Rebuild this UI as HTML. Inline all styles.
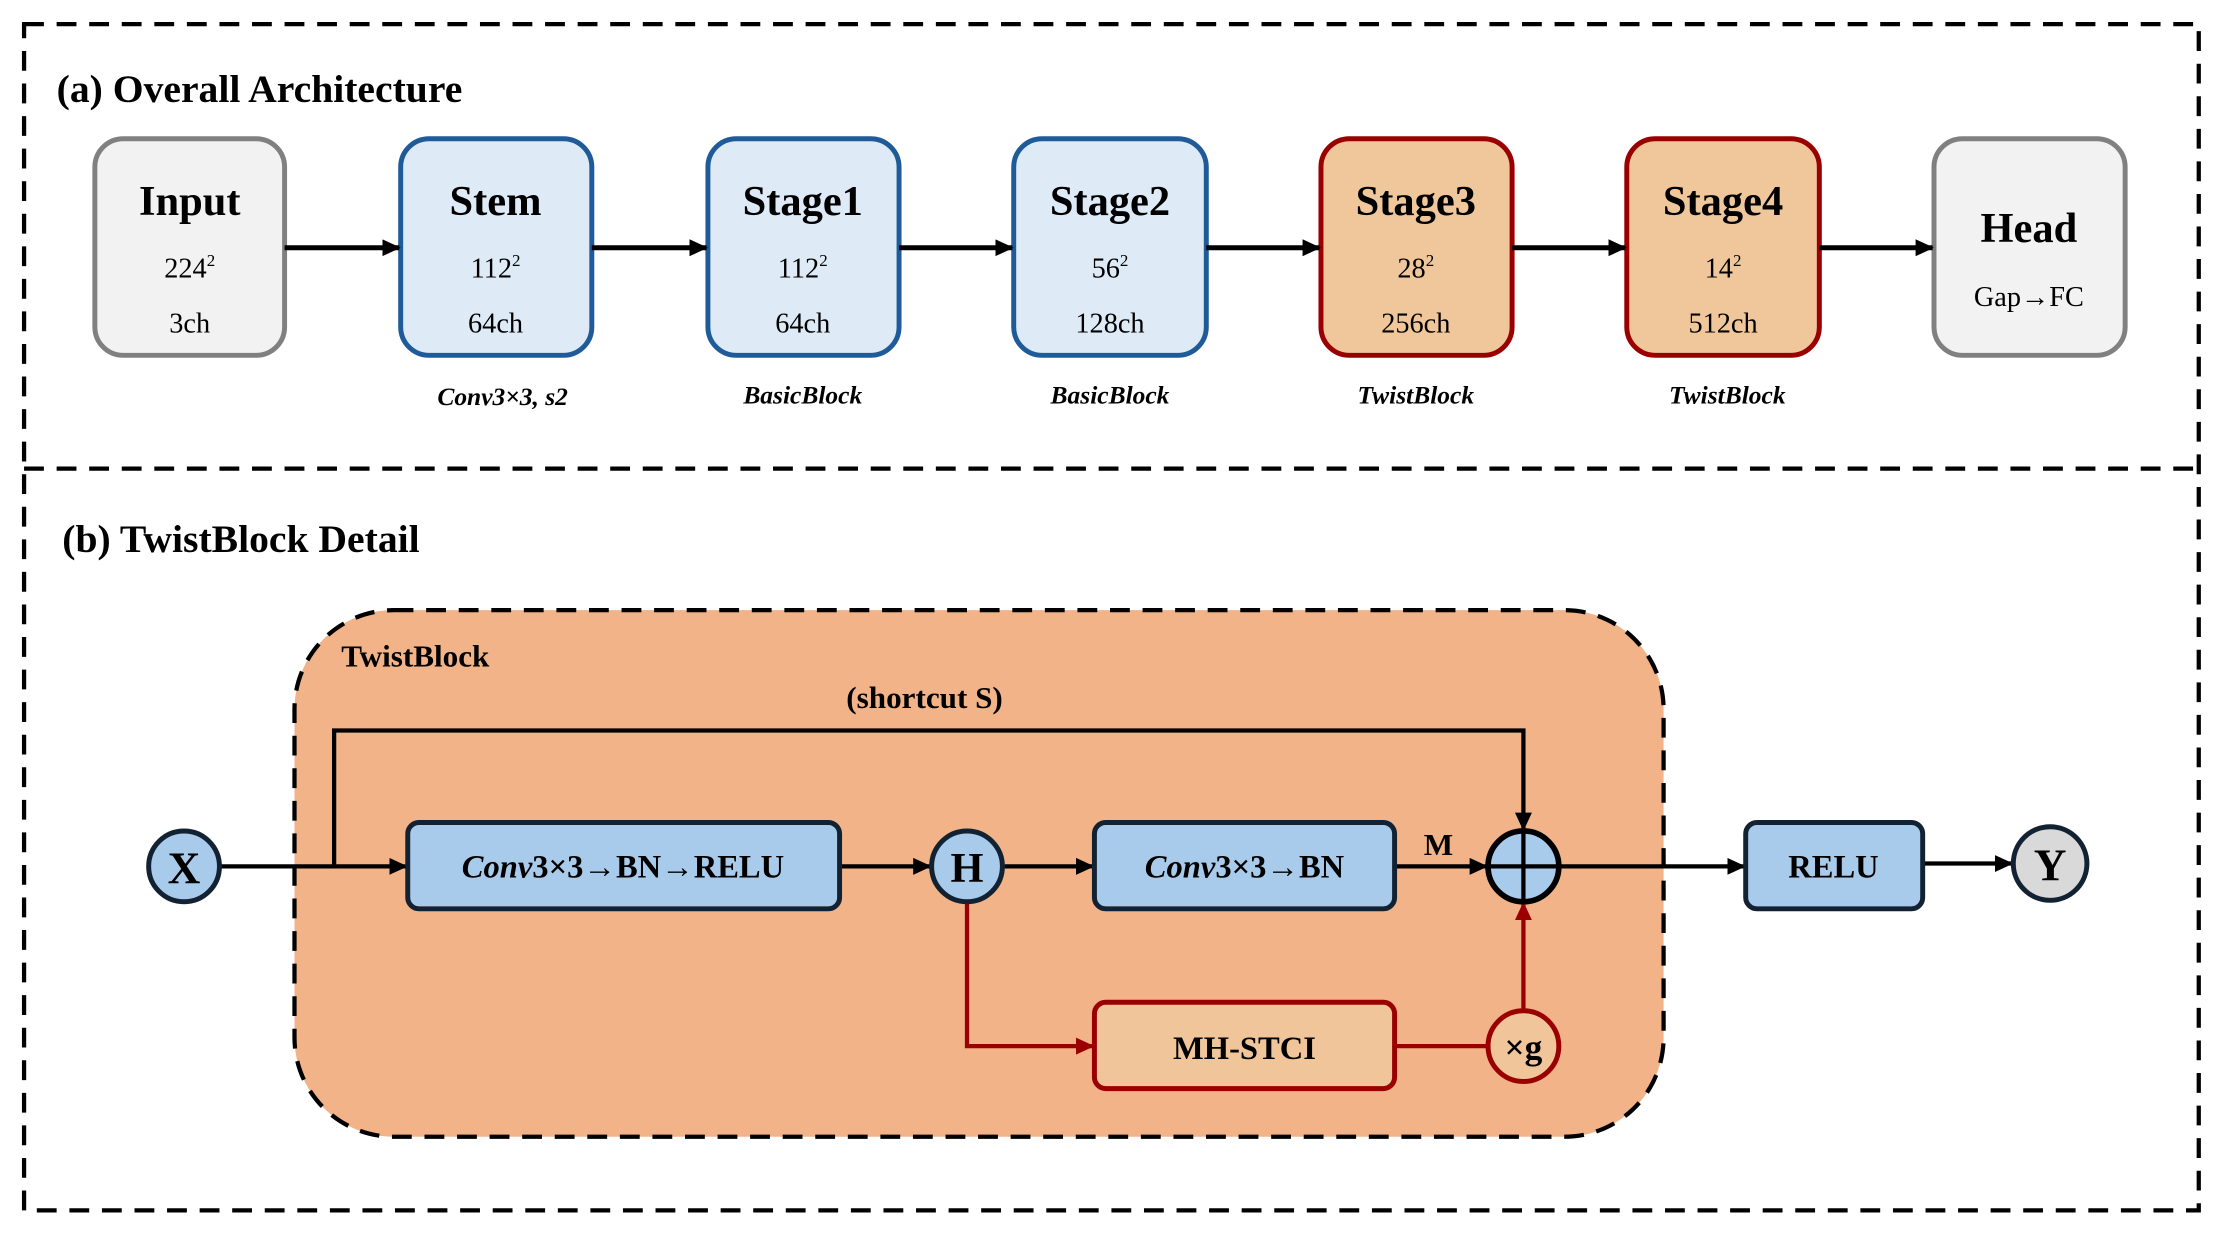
<!DOCTYPE html>
<html><head><meta charset="utf-8"><style>
html,body{margin:0;padding:0;background:#fff}
svg{display:block}
text{font-family:"Liberation Serif",serif;font-weight:bold;fill:#000}
</style></head><body>
<svg width="2220" height="1233" viewBox="0 0 1568 871" preserveAspectRatio="none" xmlns="http://www.w3.org/2000/svg">
<defs>
<marker id="ab" markerWidth="13" markerHeight="12" refX="12" refY="6" orient="auto" markerUnits="userSpaceOnUse"><path d="M0,0 L13,6 L0,12 z" fill="#000"/></marker>
<marker id="ar" markerWidth="13" markerHeight="12" refX="12" refY="6" orient="auto" markerUnits="userSpaceOnUse"><path d="M0,0 L13,6 L0,12 z" fill="#9b0000"/></marker>
</defs>
<rect x="17" y="17" width="1536" height="838" fill="none" stroke="#000" stroke-width="3" stroke-dasharray="14,9"/>
<line x1="17" y1="331" x2="1553" y2="331" stroke="#000" stroke-width="3" stroke-dasharray="14,9"/>
<text x="40" y="72" font-size="28">(a) Overall Architecture</text>
<text x="44" y="390" font-size="28">(b) TwistBlock Detail</text>

<g stroke-width="3.5">
<rect x="67" y="98" width="134" height="153" rx="20" fill="#f2f2f2" stroke="#808080"/>
<rect x="283" y="98" width="135" height="153" rx="20" fill="#deebf7" stroke="#1f5b99"/>
<rect x="500" y="98" width="135" height="153" rx="20" fill="#deebf7" stroke="#1f5b99"/>
<rect x="716" y="98" width="136" height="153" rx="20" fill="#deebf7" stroke="#1f5b99"/>
<rect x="933" y="98" width="135" height="153" rx="20" fill="#f0c79b" stroke="#9b0000"/>
<rect x="1149" y="98" width="136" height="153" rx="20" fill="#f0c79b" stroke="#9b0000"/>
<rect x="1366" y="98" width="135" height="153" rx="20" fill="#f2f2f2" stroke="#808080"/>
</g>
<g stroke="#000" stroke-width="3.5" marker-end="url(#ab)">
<line x1="201" y1="175" x2="282" y2="175"/>
<line x1="418" y1="175" x2="499" y2="175"/>
<line x1="635" y1="175" x2="715" y2="175"/>
<line x1="852" y1="175" x2="932" y2="175"/>
<line x1="1068" y1="175" x2="1148" y2="175"/>
<line x1="1285" y1="175" x2="1365" y2="175"/>
</g>
<g text-anchor="middle">
<text x="134" y="152" font-size="30">Input</text>
<text x="350" y="152" font-size="30">Stem</text>
<text x="567" y="152" font-size="30">Stage1</text>
<text x="784" y="152" font-size="30">Stage2</text>
<text x="1000" y="152" font-size="30">Stage3</text>
<text x="1217" y="152" font-size="30">Stage4</text>
<text x="1433" y="171" font-size="30">Head</text>
<g font-size="20">
<text x="134" y="196" style="font-weight:normal">224<tspan font-size="12" dy="-8">2</tspan></text>
<text x="134" y="235" style="font-weight:normal">3ch</text>
<text x="350" y="196" style="font-weight:normal">112<tspan font-size="12" dy="-8">2</tspan></text>
<text x="350" y="235" style="font-weight:normal">64ch</text>
<text x="567" y="196" style="font-weight:normal">112<tspan font-size="12" dy="-8">2</tspan></text>
<text x="567" y="235" style="font-weight:normal">64ch</text>
<text x="784" y="196" style="font-weight:normal">56<tspan font-size="12" dy="-8">2</tspan></text>
<text x="784" y="235" style="font-weight:normal">128ch</text>
<text x="1000" y="196" style="font-weight:normal">28<tspan font-size="12" dy="-8">2</tspan></text>
<text x="1000" y="235" style="font-weight:normal">256ch</text>
<text x="1217" y="196" style="font-weight:normal">14<tspan font-size="12" dy="-8">2</tspan></text>
<text x="1217" y="235" style="font-weight:normal">512ch</text>
<text x="1433" y="216" style="font-weight:normal">Gap→FC</text>
</g>
<g font-size="18" font-style="italic">
<text x="355" y="286">Conv3×3, s2</text>
<text x="567" y="285">BasicBlock</text>
<text x="784" y="285">BasicBlock</text>
<text x="1000" y="285">TwistBlock</text>
<text x="1220" y="285">TwistBlock</text>
</g>
</g>

<rect x="208" y="431" width="967" height="372" rx="70" fill="#f1b387" stroke="#000" stroke-width="3" stroke-dasharray="14,9"/>
<text x="241" y="471" font-size="22">TwistBlock</text>
<text x="653" y="500" font-size="22" text-anchor="middle">(shortcut S)</text>
<g stroke="#000" stroke-width="3" fill="none">
<polyline points="236,612 236,516 1076,516 1076,586" marker-end="url(#ab)"/>
<line x1="155" y1="612" x2="287" y2="612" marker-end="url(#ab)"/>
<line x1="593" y1="612" x2="657" y2="612" marker-end="url(#ab)"/>
<line x1="708" y1="612" x2="772" y2="612" marker-end="url(#ab)"/>
<line x1="985" y1="612" x2="1050" y2="612" marker-end="url(#ab)"/>
<line x1="1101" y1="612" x2="1232" y2="612" marker-end="url(#ab)"/>
<line x1="1358" y1="610" x2="1421" y2="610" marker-end="url(#ab)"/>
</g>
<g stroke="#9b0000" stroke-width="3" fill="none">
<polyline points="683,637 683,739 772,739" marker-end="url(#ar)"/>
<line x1="985" y1="739" x2="1051" y2="739"/>
<line x1="1076" y1="714" x2="1076" y2="638" marker-end="url(#ar)"/>
</g>
<g stroke="#122233" stroke-width="3.5">
<rect x="288" y="581" width="305" height="61" rx="8" fill="#a9cbeb"/>
<rect x="773" y="581" width="212" height="61" rx="8" fill="#a9cbeb"/>
<rect x="1233" y="581" width="125" height="61" rx="8" fill="#a9cbeb"/>
<circle cx="130" cy="612" r="25" fill="#a9cbeb"/>
<circle cx="683" cy="612" r="25" fill="#a9cbeb"/>
<circle cx="1448" cy="610" r="26" fill="#d9d9d9"/>
</g>
<circle cx="1076" cy="612" r="25" fill="#a9cbeb" stroke="#000" stroke-width="4"/>
<line x1="1051" y1="612" x2="1101" y2="612" stroke="#000" stroke-width="3"/>
<line x1="1076" y1="587" x2="1076" y2="637" stroke="#000" stroke-width="3"/>
<rect x="773" y="708" width="212" height="61" rx="8" fill="#f0c59a" stroke="#9b0000" stroke-width="3.5"/>
<circle cx="1076" cy="739" r="25" fill="#f0c59a" stroke="#9b0000" stroke-width="3.5"/>
<g text-anchor="middle">
<text x="130" y="624" font-size="32">X</text>
<text x="683" y="623" font-size="30">H</text>
<text x="1448" y="622" font-size="32">Y</text>
<text x="440" y="620" font-size="23"><tspan font-style="italic">Conv</tspan>3×3→BN→RELU</text>
<text x="879" y="620" font-size="23"><tspan font-style="italic">Conv</tspan>3×3→BN</text>
<text x="1295" y="620" font-size="23">RELU</text>
<text x="879" y="748" font-size="23">MH-STCI</text>
<text x="1076" y="748" font-size="25">×g</text>
<text x="1016" y="604" font-size="22">M</text>
</g>
</svg>
</body></html>
